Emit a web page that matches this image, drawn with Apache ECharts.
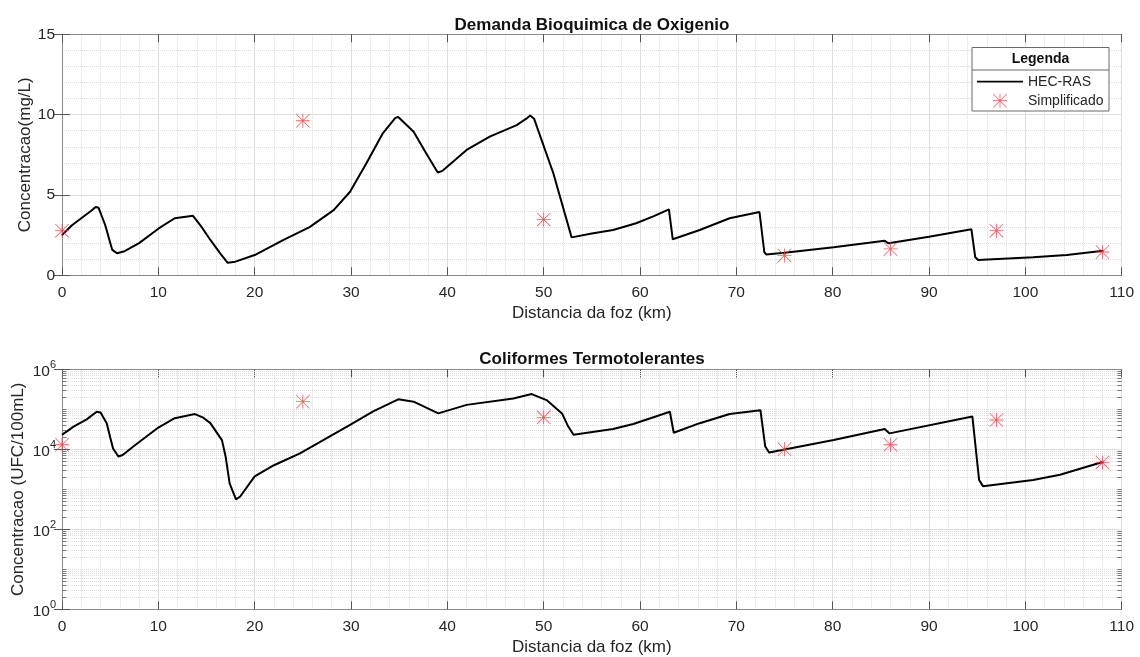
<!DOCTYPE html>
<html>
<head>
<meta charset="utf-8">
<script src="https://cdn.jsdelivr.net/npm/echarts@6/dist/echarts.min.js"></script>
<style>
  html, body { margin: 0; padding: 0; background: #fff; }
  #chart { width: 1140px; height: 657px; }
</style>
</head>
<body>
<div id="chart"></div>
<script>
// Demanda Bioquimica de Oxigenio - HEC-RAS profile (km from the mouth, mg/L)
const dboKm = [0, 1.0, 2.0, 3.0, 3.5, 3.8, 4.5, 5.2, 5.7, 6.5, 8.0, 10.0, 11.7, 13.6, 14.5, 15.4, 16.5, 17.2, 18.0,
  20.0, 23.0, 25.7, 28.2, 29.9, 31.6, 33.3, 34.6, 34.9, 36.5, 37.8, 39.0, 39.5, 42.0, 44.4, 47.2, 48.2, 48.6, 49.0,
  51.0, 52.9, 55.0, 57.2, 59.6, 61.5, 63.0, 63.4, 63.6, 66.2, 69.3, 72.4, 72.9, 73.1, 75.0, 80.1, 85.4, 85.8, 90.0,
  94.4, 94.8, 95.1, 100.8, 104.3, 108.1];
const dboVal = [2.5, 3.1, 3.55, 4.0, 4.25, 4.2, 3.1, 1.6, 1.37, 1.5, 2.0, 2.9, 3.55, 3.7, 3.0, 2.2, 1.3, 0.78, 0.85,
  1.26, 2.2, 3.0, 4.06, 5.2, 6.97, 8.84, 9.8, 9.85, 8.94, 7.6, 6.4, 6.5, 7.8, 8.63, 9.35, 9.75, 9.95, 9.75,
  6.35, 2.36, 2.6, 2.82, 3.24, 3.7, 4.1, 2.24, 2.3, 2.82, 3.55, 3.94, 1.45, 1.3, 1.4, 1.74, 2.15, 1.99, 2.4,
  2.86, 1.12, 0.95, 1.12, 1.26, 1.53];

// Coliformes Termotolerantes - HEC-RAS profile (km, UFC/100mL)
const colKm = [0, 1.2, 2.56, 3.6, 4.0, 4.64, 5.0, 5.3, 5.85, 6.3, 7.4, 10.0, 11.7, 13.8, 14.6, 15.4, 16.6, 17.0, 17.4,
  18.06, 18.5, 20.0, 22.0, 24.7, 27.3, 29.9, 32.3, 34.9, 36.5, 39.06, 42.0, 46.85, 48.75, 50.3, 51.9, 52.55, 53.1,
  57.2, 59.3, 63.1, 63.5, 66.2, 69.3, 72.5, 73.0, 73.4, 80.1, 85.4, 85.9, 94.5, 95.2, 95.6, 100.8, 103.6, 108.1];
const colVal = [2.3e4, 3.7e4, 5.6e4, 8.7e4, 8.3e4, 4.5e4, 2.0e4, 1.05e4, 6.6e3, 7.2e3, 1.17e4, 3.5e4, 6.0e4, 7.6e4,
  6.3e4, 4.5e4, 1.7e4, 6.3e3, 1.4e3, 5.6e2, 6.6e2, 2.1e3, 4.0e3, 7.9e3, 1.8e4, 4.1e4, 8.9e4, 1.78e5, 1.55e5, 7.9e4,
  1.29e5, 1.86e5, 2.4e5, 1.7e5, 7.9e4, 3.7e4, 2.3e4, 3.2e4, 4.3e4, 8.7e4, 2.6e4, 4.5e4, 7.6e4, 9.5e4, 1.17e4, 8.3e3,
  1.7e4, 3.2e4, 2.5e4, 6.6e4, 1.7e3, 1.2e3, 1.7e3, 2.3e3, 4.9e3];

// Simplified model results at the monitoring points
const simKm = [0, 25, 50, 75, 86, 97, 108];
const simDbo = [2.78, 9.62, 3.48, 1.24, 1.64, 2.78, 1.45];
const simCol = [1.3e4, 1.55e5, 6.3e4, 1.0e4, 1.3e4, 5.4e4, 4.7e3];

// Axis ranges and tick steps
const xRange = [0, 110];
const xStep = 10;
const dboRange = [0, 15];
const dboStep = 5;
const colRange = [1, 1e6];
const colDecadeStep = 2;

const TXT = '#262626';
const BOX = '#8a8a8a';
const MAJOR_GRID = '#dedede';
const MINOR_GRID = '#dcdcdc';
const FONT = '"Liberation Sans", Arial, sans-serif';

// asterisk marker: vertical, horizontal and two diagonal strokes
const STAR = 'path://M47,0H53V100H47Z M0,47H100V53H0Z M4,0L100,96L96,100L0,4Z M96,0L100,4L4,100L0,96Z';

// minor values of the log axis (k * 10^n), skipping the labelled decades
const logMinor = [];
for (let n = 0; n < 6; n++) {
  for (let k = 2; k <= 10; k++) {
    const v = k * Math.pow(10, n);
    const e = Math.round(Math.log10(v));
    if (k === 10 && e % colDecadeStep === 0) continue;
    logMinor.push(v);
  }
}

const pair = (xs, ys) => xs.map((x, i) => [x, ys[i]]);

const grids = [
  { left: 62, top: 34.3, width: 1059.7, height: 241, containLabel: false, outerBoundsMode: 'none' },
  { left: 62, top: 369.3, width: 1059.7, height: 240, containLabel: false, outerBoundsMode: 'none' }
];

function bottomX(gridIndex) {
  return {
    gridIndex, type: 'value', min: xRange[0], max: xRange[1], interval: xStep, position: 'bottom',
    name: 'Distancia da foz (km)', nameLocation: 'middle', nameGap: 30, nameMoveOverlap: false,
    nameTextStyle: { fontFamily: FONT, fontSize: 17, color: TXT },
    axisLine: { show: true, onZero: false, lineStyle: { color: BOX, width: 1 } },
    axisTick: { show: true, inside: true, length: 8, lineStyle: { color: '#555' } },
    axisLabel: { fontFamily: FONT, fontSize: 15.5, color: TXT, margin: 9 },
    splitLine: { show: true, lineStyle: { color: MAJOR_GRID, width: 1 } },
    minorTick: { show: false, splitNumber: 5 },
    minorSplitLine: { show: true, lineStyle: { color: MINOR_GRID, type: 'dotted', width: 1 } }
  };
}
function topX(gridIndex) {
  return {
    gridIndex, type: 'value', min: xRange[0], max: xRange[1], interval: xStep, position: 'top',
    axisLine: { show: true, onZero: false, lineStyle: { color: BOX, width: 1 } },
    axisTick: { show: true, inside: true, length: 8, lineStyle: { color: '#555' } },
    axisLabel: { show: false }, splitLine: { show: false }
  };
}

const option = {
  animation: false,
  backgroundColor: '#fff',
  textStyle: { fontFamily: FONT },
  title: [
    { text: 'Demanda Bioquimica de Oxigenio', left: 592, top: 17, textAlign: 'center', padding: 0,
      textStyle: { fontFamily: FONT, fontSize: 17, fontWeight: 'bold', color: '#111' } },
    { text: 'Coliformes Termotolerantes', left: 592, top: 351, textAlign: 'center', padding: 0,
      textStyle: { fontFamily: FONT, fontSize: 17, fontWeight: 'bold', color: '#111' } }
  ],
  grid: grids,
  xAxis: [bottomX(0), topX(0), bottomX(1), topX(1)],
  yAxis: [
    {
      gridIndex: 0, type: 'value', min: dboRange[0], max: dboRange[1], interval: dboStep, position: 'left',
      name: 'Concentracao(mg/L)', nameLocation: 'middle', nameGap: 28, nameMoveOverlap: false,
      nameTextStyle: { fontFamily: FONT, fontSize: 17, color: TXT },
      axisLine: { show: true, lineStyle: { color: BOX, width: 1 } },
      axisTick: { show: true, inside: true, length: 8, lineStyle: { color: '#555' } },
      axisLabel: { fontFamily: FONT, fontSize: 15.5, color: TXT, margin: 7 },
      splitLine: { show: true, lineStyle: { color: MAJOR_GRID, width: 1 } },
      minorTick: { show: false, splitNumber: 5 },
      minorSplitLine: { show: true, lineStyle: { color: MINOR_GRID, type: 'dotted', width: 1 } }
    },
    {
      gridIndex: 0, type: 'value', min: dboRange[0], max: dboRange[1], interval: dboStep, position: 'right',
      axisLine: { show: true, lineStyle: { color: BOX, width: 1 } },
      axisTick: { show: true, inside: true, length: 8, lineStyle: { color: '#555' } },
      axisLabel: { show: false }, splitLine: { show: false }
    },
    {
      gridIndex: 1, type: 'log', logBase: 10, min: colRange[0], max: colRange[1], interval: colDecadeStep,
      position: 'left',
      name: 'Concentracao (UFC/100mL)', nameLocation: 'middle', nameGap: 35, nameMoveOverlap: false,
      nameTextStyle: { fontFamily: FONT, fontSize: 17, color: TXT },
      axisLine: { show: true, lineStyle: { color: BOX, width: 1 } },
      axisTick: { show: true, inside: true, length: 8, lineStyle: { color: '#555' } },
      axisLabel: {
        margin: 6, color: TXT,
        formatter: v => '{b|10}{s|' + Math.round(Math.log10(v)) + '}',
        rich: {
          b: { fontFamily: FONT, fontSize: 15.5, color: TXT, verticalAlign: 'bottom', lineHeight: 20 },
          s: { fontFamily: FONT, fontSize: 11, color: TXT, verticalAlign: 'top', lineHeight: 20 }
        }
      },
      splitLine: { show: true, lineStyle: { color: MAJOR_GRID, width: 1 } }
    },
    {
      gridIndex: 1, type: 'log', logBase: 10, min: colRange[0], max: colRange[1], interval: colDecadeStep,
      position: 'right',
      axisLine: { show: true, lineStyle: { color: BOX, width: 1 } },
      axisTick: { show: true, inside: true, length: 8, lineStyle: { color: '#555' } },
      axisLabel: { show: false }, splitLine: { show: false }
    }
  ],
  legend: {
    data: [
      { name: 'HEC-RAS', icon: 'path://M0,0H100V4H0Z' },
      { name: 'Simplificado', icon: STAR }
    ],
    orient: 'vertical', left: 977, top: 74.7, padding: 0,
    itemWidth: 46, itemHeight: 14, itemGap: 5, z: 10,
    selectedMode: false,
    textStyle: { fontFamily: FONT, fontSize: 14, color: TXT, padding: [0, 0, 0, 0] }
  },
  graphic: [
    { type: 'rect', z: 8, shape: { x: 972, y: 47.5, width: 137, height: 63.5 },
      style: { fill: '#fff', stroke: '#6a6a6a', lineWidth: 1 } },
    { type: 'line', z: 9, shape: { x1: 972, y1: 70, x2: 1109, y2: 70 },
      style: { stroke: '#6a6a6a', lineWidth: 1 } },
    { type: 'text', z: 9, x: 1040.5, y: 59, style: { text: 'Legenda', fontFamily: FONT, fontSize: 14,
      fontWeight: 'bold', fill: '#111', align: 'center', verticalAlign: 'middle' } }
  ],
  series: [
    // minor grid and minor ticks of the logarithmic axis
    {
      name: 'log-minor', type: 'line', xAxisIndex: 2, yAxisIndex: 2, data: [], silent: true, z: 1,
      markLine: {
        silent: true, symbol: 'none', label: { show: false }, animation: false,
        lineStyle: { color: MINOR_GRID, type: 'dotted', width: 1 },
        data: logMinor.map(v => ({ yAxis: v }))
      }
    },
    {
      name: 'log-minor-ticks', type: 'line', xAxisIndex: 2, yAxisIndex: 2, data: [], silent: true, z: 3,
      markLine: {
        silent: true, symbol: 'none', label: { show: false }, animation: false,
        lineStyle: { color: '#777', type: 'solid', width: 1 },
        data: logMinor.flatMap(v => [
          [{ coord: [xRange[0], v] }, { coord: [xRange[0] + 0.45, v] }],
          [{ coord: [xRange[1] - 0.45, v] }, { coord: [xRange[1], v] }]
        ])
      }
    },
    {
      name: 'HEC-RAS', type: 'line', xAxisIndex: 0, yAxisIndex: 0, data: pair(dboKm, dboVal),
      showSymbol: false, symbol: 'none', z: 5,
      lineStyle: { color: '#000', width: 2 }, itemStyle: { color: '#000' }
    },
    {
      name: 'Simplificado', type: 'scatter', xAxisIndex: 0, yAxisIndex: 0, data: pair(simKm, simDbo),
      symbol: STAR, symbolSize: 14, z: 6, itemStyle: { color: '#f03a3a' }
    },
    {
      name: 'HEC-RAS', type: 'line', xAxisIndex: 2, yAxisIndex: 2, data: pair(colKm, colVal),
      showSymbol: false, symbol: 'none', z: 5,
      lineStyle: { color: '#000', width: 2 }, itemStyle: { color: '#000' }
    },
    {
      name: 'Simplificado', type: 'scatter', xAxisIndex: 2, yAxisIndex: 2, data: pair(simKm, simCol),
      symbol: STAR, symbolSize: 14, z: 6, itemStyle: { color: '#f03a3a' }
    }
  ]
};

const chart = echarts.init(document.getElementById('chart'), null, { renderer: 'canvas' });
chart.setOption(option);
</script>
</body>
</html>
